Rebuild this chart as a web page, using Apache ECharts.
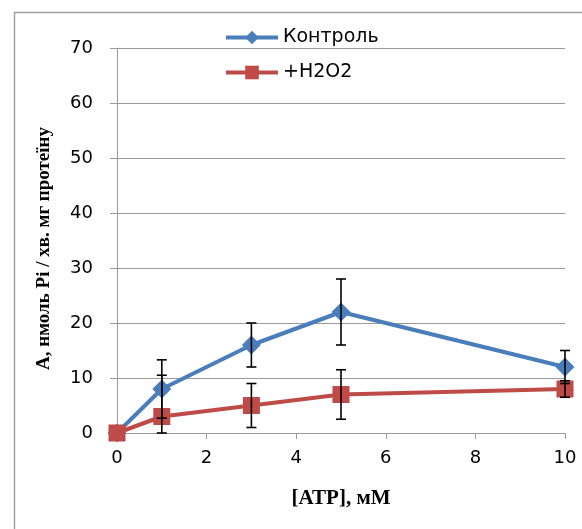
<!DOCTYPE html>
<html><head><meta charset="utf-8">
<script src="https://cdn.jsdelivr.net/npm/echarts@6/dist/echarts.min.js"></script>
<style>html,body{margin:0;padding:0;background:#fff}#c{width:582px;height:529px}</style>
</head><body><div id="c"></div>
<script>
var xValues = [0, 1, 3, 5, 10];
var controlValues = [0, 8, 16, 22, 12];
var controlLow = [0, 2.7, 12, 16, 9];
var controlHigh = [0, 13.3, 20, 28, 15];
var h2o2Values = [0, 3, 5, 7, 8];
var h2o2Low = [0, 0, 1, 2.5, 6.5];
var h2o2High = [0, 10.5, 9, 11.5, 9.5];
var seriesNames = ['Контроль', '+H2O2'];

function pairs(xs, ys) { return xs.map(function (x, i) { return [x, ys[i]]; }); }
function errData(xs, lo, hi) {
  var out = [];
  xs.forEach(function (x, i) { if (hi[i] !== lo[i]) out.push([x, lo[i], hi[i]]); });
  return out;
}
function errRender(params, api) {
  var x = api.value(0);
  var lo = api.coord([x, api.value(1)]);
  var hi = api.coord([x, api.value(2)]);
  var cw = 5;
  var st = { stroke: '#000', lineWidth: 1.6 };
  return { type: 'group', children: [
    { type: 'line', shape: { x1: lo[0], y1: lo[1], x2: hi[0], y2: hi[1] }, style: st },
    { type: 'line', shape: { x1: hi[0] - cw, y1: hi[1], x2: hi[0] + cw, y2: hi[1] }, style: st },
    { type: 'line', shape: { x1: lo[0] - cw, y1: lo[1], x2: lo[0] + cw, y2: lo[1] }, style: st }
  ]};
}

var chart = echarts.init(document.getElementById('c'), null, { renderer: 'canvas' });
chart.setOption({
  animation: false,
  backgroundColor: '#fff',
  graphic: [{ type: 'rect', left: 12, top: 10, shape: { width: 600, height: 560 },
    style: { fill: 'none', stroke: '#a0a0a0', lineWidth: 1.5 }, silent: true, z: -1 }],
  legend: {
    orient: 'vertical', left: 224, top: 28, padding: 0, itemWidth: 52, itemHeight: 17, itemGap: 16,
    lineStyle: { width: 4 },
    textStyle: { fontFamily: 'DejaVu Sans', fontSize: 19, color: '#000' },
    data: seriesNames
  },
  grid: { left: 117, right: 17, top: 48, bottom: 96 },
  xAxis: {
    type: 'value', min: 0, max: 10, interval: 2,
    name: '[ATP], мМ', nameLocation: 'middle', nameGap: 55,
    nameTextStyle: { fontFamily: 'Liberation Serif', fontWeight: 'bold', fontSize: 21, color: '#000' },
    axisLine: { show: true, lineStyle: { color: '#9a9a9a', width: 1 } },
    axisTick: { show: true, length: 6, lineStyle: { color: '#9a9a9a' } },
    axisLabel: { fontFamily: 'DejaVu Sans', fontSize: 18, color: '#000', margin: 16 },
    splitLine: { show: false }
  },
  yAxis: {
    type: 'value', min: 0, max: 70, interval: 10,
    name: 'A, нмоль Pi / хв. мг протеїну', nameLocation: 'middle', nameGap: 63, nameRotate: 90,
    nameTextStyle: { fontFamily: 'Liberation Serif', fontWeight: 'bold', fontSize: 19, color: '#000', padding: [0, 16, 0, 0] },
    axisLine: { show: true, lineStyle: { color: '#9a9a9a', width: 1 } },
    axisTick: { show: true, length: 7, lineStyle: { color: '#9a9a9a' } },
    axisLabel: { fontFamily: 'DejaVu Sans', fontSize: 18, color: '#000', margin: 24 },
    splitLine: { show: true, lineStyle: { color: '#9a9a9a', width: 1 } }
  },
  series: [
    { name: seriesNames[0], type: 'line', data: pairs(xValues, controlValues),
      symbol: 'diamond', symbolSize: 19, color: '#4A7EBB',
      lineStyle: { width: 4, color: '#4A7EBB' }, itemStyle: { color: '#4A7EBB' }, z: 3 },
    { name: seriesNames[1], type: 'line', data: pairs(xValues, h2o2Values),
      symbol: 'rect', symbolSize: 17, color: '#BE4B48',
      lineStyle: { width: 4, color: '#BE4B48' }, itemStyle: { color: '#BE4B48' }, z: 4 },
    { type: 'custom', data: errData(xValues, controlLow, controlHigh), renderItem: errRender,
      encode: { x: 0, y: [1, 2] }, z: 5, silent: true },
    { type: 'custom', data: errData(xValues, h2o2Low, h2o2High), renderItem: errRender,
      encode: { x: 0, y: [1, 2] }, z: 5, silent: true }
  ]
});
</script></body></html>
